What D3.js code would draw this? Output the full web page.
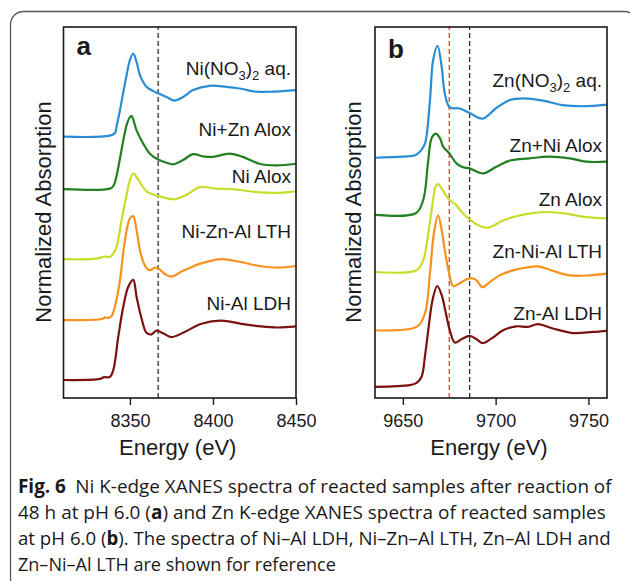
<!DOCTYPE html>
<html>
<head>
<meta charset="utf-8">
<script src="https://cdn.jsdelivr.net/npm/d3@7"></script>
<style>
  body { margin: 0; background: #fff; }
  svg { display: block; font-family: "Liberation Sans", Arial, sans-serif; }
</style>
</head>
<body>
<div id="chart"></div>
<script>
// ---- data: [energy (eV), normalized absorption] ----
var niNitrate = [[8310,0],[8338,0.02],[8341,0.07],[8342,0.2],[8344,0.5],[8346,0.84],[8348,1.16],[8350,1.45],[8352,1.57],[8354,1.41],[8356,1.16],[8358,1.03],[8360,0.94],[8364,0.86],[8367,0.82],[8372,0.75],[8377,0.68],[8382,0.75],[8388,0.88],[8398,0.96],[8408,0.94],[8416,0.91],[8426,0.85],[8436,0.85],[8450,0.88]];
var niZnAlox = [[8310,0],[8338,0.01],[8340,0.06],[8342,0.26],[8344,0.58],[8346,0.92],[8348,1.21],[8350,1.36],[8351,1.38],[8354,1.11],[8358,0.86],[8362,0.67],[8367,0.56],[8372,0.5],[8376,0.47],[8382,0.55],[8388,0.66],[8394,0.62],[8400,0.61],[8410,0.67],[8418,0.61],[8428,0.48],[8438,0.45],[8450,0.48]];
var niAlox = [[8310,0],[8330,0.01],[8335,0.05],[8338,0.04],[8340,0.11],[8342,0.23],[8345,0.74],[8348,1.21],[8350,1.49],[8352,1.62],[8354,1.55],[8357,1.4],[8360,1.28],[8364,1.22],[8367,1.19],[8372,1.15],[8377,1.13],[8384,1.21],[8392,1.36],[8402,1.33],[8412,1.32],[8425,1.27],[8439,1.25],[8450,1.28]];
var niZnAlLth = [[8310,0],[8333,0.02],[8335,0.05],[8337,0.04],[8339,0.08],[8342,0.4],[8344,0.75],[8347,1.51],[8350,1.92],[8352,1.96],[8354,1.7],[8356,1.32],[8358,1.1],[8360,0.98],[8362,0.94],[8365,0.99],[8367,0.98],[8371,0.87],[8375,0.82],[8382,0.93],[8393,1.07],[8405,1.15],[8416,1.1],[8428,1.02],[8439,0.99],[8450,1.02]];
var niAlLdh = [[8310,0],[8332,0.02],[8334,0.05],[8338,0.06],[8340,0.19],[8343,0.82],[8346,1.38],[8349,1.76],[8352,1.89],[8354,1.57],[8357,1.16],[8360,0.89],[8363,0.86],[8366,0.93],[8370,0.88],[8375,0.81],[8382,0.89],[8393,1.06],[8405,1.12],[8417,1.06],[8429,1.01],[8439,0.99],[8450,1.01]];

var znNitrate = [[9635,0],[9650,0.02],[9657,0.05],[9660,0.14],[9662,0.26],[9664.6,1.02],[9666.3,1.74],[9668.7,2.0],[9670.9,1.63],[9672.6,1.15],[9675.3,0.9],[9680.7,0.88],[9686,0.8],[9693,0.7],[9700,0.88],[9707.6,1.03],[9714.7,1.06],[9725.5,1.02],[9736,0.94],[9747,0.92],[9760,0.95]];
var znNiAlox = [[9635,0],[9657,0.03],[9661,0.27],[9663.7,0.98],[9665.5,1.37],[9667.8,1.45],[9670,1.37],[9671.7,1.22],[9675,1.1],[9678.9,0.92],[9682.5,0.85],[9686,0.83],[9693.2,0.74],[9700.4,0.86],[9707.6,0.97],[9718.3,1.01],[9729,1.04],[9739.8,1.01],[9748.8,0.95],[9760,0.95]];
var znAlox = [[9635,0],[9657.4,0.03],[9661,0.21],[9663.7,0.69],[9666,1.22],[9667.6,1.52],[9669,1.57],[9670.9,1.49],[9673.2,1.37],[9675.3,1.28],[9678.9,1.19],[9682.5,1.04],[9686,0.94],[9691.5,0.82],[9695.9,0.79],[9704,0.92],[9713,1.01],[9725.5,1.07],[9736.2,1.05],[9748.8,0.98],[9760,0.96]];
var znNiAlLth = [[9635,0],[9657.4,0.06],[9661.9,0.3],[9664.6,1.01],[9666.7,1.73],[9669,2.05],[9670.9,1.79],[9672.6,1.43],[9675,1.01],[9677.1,0.79],[9680.7,0.84],[9684.3,0.91],[9687,0.93],[9689.7,0.89],[9692.9,0.77],[9696.8,0.86],[9702.2,0.98],[9709.4,1.07],[9716.6,1.12],[9722.8,1.14],[9729.1,1.08],[9739.8,0.98],[9750.6,0.98],[9760,1.01]];
var znAlLdh = [[9635,0],[9653.8,0.03],[9657.4,0.07],[9660.1,0.18],[9661.9,0.54],[9663.7,1.01],[9666,1.55],[9668.5,1.8],[9670.9,1.64],[9673.2,1.31],[9675.3,1.01],[9678,0.79],[9681.6,0.85],[9686.1,0.91],[9689.7,0.85],[9692.9,0.78],[9697.7,0.86],[9704,1.01],[9711.2,1.08],[9717.4,1.07],[9722.8,1.12],[9730.9,1.04],[9741.6,0.96],[9752.4,0.98],[9760,1.0]];

// vertical stacking offsets (top to bottom)
var offsetsA = [4.59, 3.60, 2.28, 1.13, 0];
var offsetsB = [4.09, 3.07, 2.05, 1.01, 0];

var labelsA = [["Ni(NO", "3", ")", "2", " aq."], ["Ni+Zn Alox"], ["Ni Alox"], ["Ni-Zn-Al LTH"], ["Ni-Al LDH"]];
var labelsB = [["Zn(NO", "3", ")", "2", " aq."], ["Zn+Ni Alox"], ["Zn Alox"], ["Zn-Ni-Al LTH"], ["Zn-Al LDH"]];
var labelValA = [5.76, 4.61, 3.72, 2.67, 1.32];
var labelValB = [5.36, 4.2, 3.22, 2.3, 1.2];

var ticksA = [8350, 8400, 8450];
var ticksB = [9650, 9700, 9750];
var refLinesA = [8367];
var refLinesB = [9675, 9686];

var colors = ["#2b8ed4", "#228022", "#c9dc2c", "#f8911e", "#7b1111"];

var captionLines = [
  [["Fig. 6", true], ["\u2002Ni K-edge XANES spectra of reacted samples after reaction of", false]],
  [["48 h at pH 6.0 (", false], ["a", true], [") and Zn K-edge XANES spectra of reacted samples", false]],
  [["at pH 6.0 (", false], ["b", true], ["). The spectra of Ni\u2013Al LDH, Ni\u2013Zn\u2013Al LTH, Zn\u2013Al LDH and", false]],
  [["Zn\u2013Ni\u2013Al LTH are shown for reference", false]]
];
var captionWidths = [594, 588, 593, 318];

// ---- drawing ----
var svg = d3.select('#chart').append('svg')
  .attr('width', 630)
  .attr('height', 581);

svg.append('rect')
  .attr('x', 10.5).attr('y', 11.5)
  .attr('width', 627).attr('height', 580)
  .attr('rx', 13)
  .style('fill', 'none')
  .style('stroke', '#555')
  .style('stroke-width', 1.3);

function panel(opts){
  var x = d3.scaleLinear().domain(opts.xDomain).range([opts.left, opts.right]);
  var y = d3.scaleLinear().domain(opts.yDomain).range([398, 27]);
  var g = svg.append('g');

  opts.refs.forEach(function(r, i){
    g.append('line')
      .attr('x1', x(r)).attr('x2', x(r))
      .attr('y1', y.range()[0]).attr('y2', y.range()[1])
      .style('stroke', opts.refColors[i])
      .style('stroke-width', 1.3)
      .style('stroke-dasharray', '5,3');
  });

  var line = d3.line()
    .curve(d3.curveCatmullRom.alpha(0.5));

  opts.series.forEach(function(s, i){
    var off = opts.offsets[i];
    g.append('path')
      .attr('d', line(s.map(function(d){ return [x(d[0]), y(d[1] + off)]; })))
      .style('fill', 'none')
      .style('stroke', colors[i])
      .style('stroke-width', 2.2)
      .style('stroke-linejoin', 'round');

    var t = g.append('text')
      .attr('x', opts.labelX)
      .attr('y', y(opts.labelVals[i]))
      .attr('text-anchor', 'end')
      .style('font-size', '19px')
      .style('fill', '#1a1a1a');
    var parts = opts.labels[i];
    if (parts.length === 1) {
      t.text(parts[0]);
    } else {
      t.append('tspan').text(parts[0]);
      t.append('tspan').attr('dy', 5).style('font-size', '13px').text(parts[1]);
      t.append('tspan').attr('dy', -5).text(parts[2]);
      t.append('tspan').attr('dy', 5).style('font-size', '13px').text(parts[3]);
      t.append('tspan').attr('dy', -5).text(parts[4]);
    }
  });

  // frame
  g.append('rect')
    .attr('x', opts.left).attr('y', 27)
    .attr('width', opts.right - opts.left).attr('height', 371)
    .style('fill', 'none')
    .style('stroke', '#1a1a1a')
    .style('stroke-width', 1.6);

  var ax = g.append('g')
    .attr('transform', 'translate(0,398)')
    .call(d3.axisBottom(x).tickValues(opts.ticks).tickFormat(d3.format('d'))
      .tickSize(7).tickSizeOuter(0).tickPadding(9));
  ax.select('.domain').remove();
  ax.selectAll('line').style('stroke', '#1a1a1a').style('stroke-width', 1.4);
  ax.selectAll('text')
    .style('font-family', '"Liberation Sans", Arial, sans-serif')
    .style('font-size', '18px')
    .style('fill', '#1a1a1a');

  g.append('text')
    .attr('x', (opts.left + opts.right) / 2 - 2)
    .attr('y', 455)
    .attr('text-anchor', 'middle')
    .style('font-size', '22px')
    .style('fill', '#1a1a1a')
    .text('Energy (eV)');

  g.append('text')
    .attr('transform', 'translate(' + opts.yLabelX + ',212) rotate(-90)')
    .attr('text-anchor', 'middle')
    .style('font-size', '22px')
    .style('fill', '#1a1a1a')
    .text('Normalized Absorption');

  g.append('text')
    .attr('x', opts.left + 13)
    .attr('y', opts.letterY)
    .style('font-size', '26px')
    .style('font-weight', 'bold')
    .style('fill', '#1a1a1a')
    .text(opts.letter);
}

panel({
  xDomain: [8310, 8450], yDomain: [-0.34, 6.66],
  left: 63.5, right: 296,
  series: [niNitrate, niZnAlox, niAlox, niZnAlLth, niAlLdh],
  offsets: offsetsA, labels: labelsA, labelVals: labelValA, labelX: 291,
  refs: refLinesA, refColors: ['#333'],
  ticks: ticksA, yLabelX: 51, letter: 'a', letterY: 55
});

panel({
  xDomain: [9635, 9760], yDomain: [-0.2, 6.425],
  left: 375, right: 607,
  series: [znNitrate, znNiAlox, znAlox, znNiAlLth, znAlLdh],
  offsets: offsetsB, labels: labelsB, labelVals: labelValB, labelX: 602,
  refs: refLinesB, refColors: ['#e0423c', '#333'],
  ticks: ticksB, yLabelX: 361, letter: 'b', letterY: 58
});

// caption: natural text, squeezed horizontally to the measured line widths
var cap = svg.append('g')
  .style('font-family', '"Open Sans", "Noto Sans", sans-serif')
  .style('font-size', '19px')
  .style('fill', '#1a1a1a');
captionLines.forEach(function(parts, i){
  var row = cap.append('g');
  var t = row.append('text').attr('x', 0).attr('y', 0);
  parts.forEach(function(p){
    t.append('tspan')
      .style('font-weight', p[1] ? 'bold' : 'normal')
      .text(p[0]);
  });
  var w = t.node().getComputedTextLength();
  row.attr('transform', 'translate(18,' + (493 + i * 26) + ') scale(' + (captionWidths[i] / w) + ',1)');
});
</script>
</body>
</html>
